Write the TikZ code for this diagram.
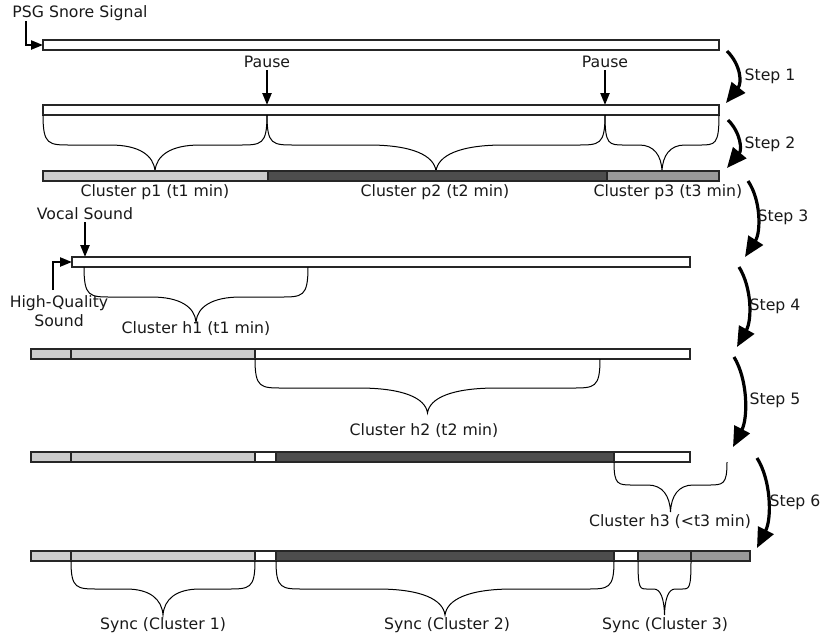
\documentclass[tikz,border=0pt]{standalone}
\usepackage{fontspec}
\setmainfont{DejaVu Sans}
\usetikzlibrary{arrows.meta}
\definecolor{lg}{HTML}{CCCCCC}
\definecolor{dg}{HTML}{4D4D4D}
\definecolor{mg}{HTML}{999999}
\tikzset{
  lbl/.style={inner sep=0pt, font=\fontsize{15.7}{19}\selectfont, text=black!90},
  bar/.style={draw=black!85, line width=1.4pt},
  ptr/.style={line width=2.3pt, -{Triangle[length=12pt,width=9pt]}},
  steparrow/.style={line width=3.2pt, -{Triangle[length=20pt,width=17pt]}},
  bracestyle/.style={line width=1pt, black}
}
\newcommand\mybrc[5]{%
  \pgfmathsetmacro\brW{#2-#1}%
  \pgfmathsetmacro\brC{min(28,0.17*\brW)}%
  \pgfmathsetmacro\brD{0.2*\brW}%
  \pgfmathsetmacro\brM{(#1+#2)/2}%
  \draw[bracestyle] (#1,#3) .. controls (#1,#4) and ({#1+0.2*\brC},#4) .. ({#1+\brC},#4)
    -- ({\brM-\brD},#4) .. controls ({\brM-0.35*\brD},#4) and ({\brM-0.03*\brD},{#4+0.4*(#5-#4)}) .. (\brM,#5)
    .. controls ({\brM+0.03*\brD},{#4+0.4*(#5-#4)}) and ({\brM+0.35*\brD},#4) .. ({\brM+\brD},#4)
    -- ({#2-\brC},#4) .. controls ({#2-0.2*\brC},#4) and (#2,#4) .. (#2,#3);
}
\begin{document}
\begin{tikzpicture}[x=1pt,y=-1pt]
\useasboundingbox (0,0) rectangle (824,638);

% ---------- Row 1 ----------
\node[lbl] (psg) at (80,13) {PSG Snore Signal};
\draw[bar, fill=white] (43,40) rectangle (719,50);
\coordinate (psgA) at (26,21);
\coordinate (psgB) at (43,45);
\draw[ptr] (psgA) |- (psgB);

% ---------- Row 2 ----------
\node[lbl] (pause1) at (267,62) {Pause};
\node[lbl] (pause2) at (605,62) {Pause};
\coordinate (pz1) at (267,105);
\coordinate (pz2) at (605,105);
\coordinate (pz1a) at (267,70);
\coordinate (pz2a) at (605,70);
\draw[ptr] (pz1a) -- (pz1);
\draw[ptr] (pz2a) -- (pz2);
\draw[bar, fill=white] (43,105) rectangle (719,115);
\mybrc{43}{267}{115}{145}{171}
\mybrc{267}{605}{115}{145}{171}
\mybrc{605}{719}{115}{145}{171}

% ---------- Row 3 ----------
\draw[bar, fill=lg] (43,171) rectangle (268,181);
\draw[bar, fill=dg] (268,171) rectangle (607,181);
\draw[bar, fill=mg] (607,171) rectangle (719,181);
\node[lbl] (cp1) at (155,192) {Cluster p1 (t1 min)};
\node[lbl] (cp2) at (435,192) {Cluster p2 (t2 min)};
\node[lbl] (cp3) at (668,192) {Cluster p3 (t3 min)};

% ---------- Row 4 ----------
\node[lbl] (vocal) at (85,214) {Vocal Sound};
\coordinate (vcA) at (85,222);
\coordinate (vcB) at (85,257);
\draw[ptr] (vcA) -- (vcB);
\draw[bar, fill=white] (72,257) rectangle (690,267);
\node[lbl, align=center] (hq) at (59,311) {High-Quality\\Sound};
\coordinate (hqA) at (53,290);
\coordinate (hqB) at (72,262);
\draw[ptr] (hqA) |- (hqB);
\mybrc{84}{308}{267}{297}{322}
\node[lbl] (ch1) at (196,329) {Cluster h1 (t1 min)};

% ---------- Row 5 ----------
\draw[bar, fill=lg] (31,349) rectangle (71,359);
\draw[bar, fill=lg] (71,349) rectangle (255,359);
\draw[bar, fill=white] (255,349) rectangle (690,359);
\mybrc{255}{600}{359}{388}{413}
\node[lbl] (ch2) at (424,431) {Cluster h2 (t2 min)};

% ---------- Row 6 ----------
\draw[bar, fill=lg] (31,452) rectangle (71,462);
\draw[bar, fill=lg] (71,452) rectangle (255,462);
\draw[bar, fill=white] (255,452) rectangle (276,462);
\draw[bar, fill=dg] (276,452) rectangle (614,462);
\draw[bar, fill=white] (614,452) rectangle (690,462);
\mybrc{614}{727}{462}{485}{512}
\node[lbl] (ch3) at (670,522) {Cluster h3 (<t3 min)};

% ---------- Row 7 ----------
\draw[bar, fill=lg] (31,551) rectangle (71,561);
\draw[bar, fill=lg] (71,551) rectangle (255,561);
\draw[bar, fill=white] (255,551) rectangle (276,561);
\draw[bar, fill=dg] (276,551) rectangle (614,561);
\draw[bar, fill=white] (614,551) rectangle (638,561);
\draw[bar, fill=mg] (638,551) rectangle (691,561);
\draw[bar, fill=mg] (691,551) rectangle (750,561);
\mybrc{71}{255}{561}{589}{615}
\mybrc{276}{614}{561}{589}{615}
\mybrc{638}{691}{561}{589}{615}
\node[lbl] (s1) at (163,625) {Sync (Cluster 1)};
\node[lbl] (s2) at (447,625) {Sync (Cluster 2)};
\node[lbl] (s3) at (665,625) {Sync (Cluster 3)};

% ---------- Step arrows ----------
\coordinate (a1s) at (727,51);  \coordinate (a1e) at (726,103);
\coordinate (a2s) at (728,120); \coordinate (a2e) at (727,168);
\coordinate (a3s) at (748,181); \coordinate (a3e) at (745,257);
\coordinate (a4s) at (739,267); \coordinate (a4e) at (737,347);
\coordinate (a5s) at (734,357); \coordinate (a5e) at (733,447);
\coordinate (a6s) at (757,458); \coordinate (a6e) at (757,548);
\draw[steparrow] (a1s) .. controls (741,65) and (742,83) .. (a1e);
\draw[steparrow] (a2s) .. controls (741,133) and (742,150) .. (a2e);
\draw[steparrow] (a3s) .. controls (761,200) and (761,232) .. (a3e);
\draw[steparrow] (a4s) .. controls (752,288) and (752,320) .. (a4e);
\draw[steparrow] (a5s) .. controls (748,380) and (748,418) .. (a5e);
\draw[steparrow] (a6s) .. controls (771,480) and (772,518) .. (a6e);
\node[lbl] (st1) at (770,76) {Step 1};
\node[lbl] (st2) at (770,144) {Step 2};
\node[lbl] (st3) at (783,217) {Step 3};
\node[lbl] (st4) at (775,306) {Step 4};
\node[lbl] (st5) at (775,400) {Step 5};
\node[lbl] (st6) at (795,502) {Step 6};
\end{tikzpicture}
\end{document}
